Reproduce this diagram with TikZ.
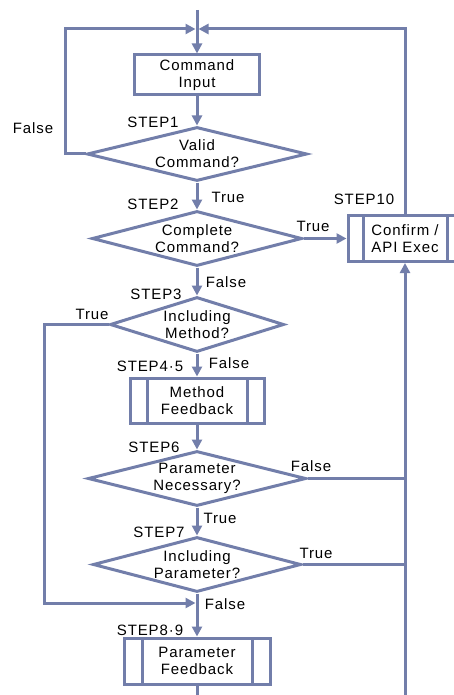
\documentclass[tikz,border=0pt]{standalone}
\usepackage{fontspec}
\setmainfont{Liberation Sans}[LetterSpace=6]
\usetikzlibrary{arrows.meta}
\usetikzlibrary{shapes.geometric}

\definecolor{flowblue}{RGB}{114,126,170}
\newcommand{\flowfont}{\fontsize{15}{17}\selectfont}

\tikzset{
	flow/.style={draw=flowblue, line width=3pt},
	flowarrow/.style={flow, -{Triangle[length=10pt,width=10pt]}},
	procbox/.style={flow, rectangle, inner sep=0pt, align=center, font=\flowfont},
	subproc/.style={procbox, path picture={
		\draw[flow] ([xshift=#1]path picture bounding box.north west) -- ([xshift=#1]path picture bounding box.south west)
			([xshift=-#1]path picture bounding box.north east) -- ([xshift=-#1]path picture bounding box.south east);}},
	subproc/.default=17pt,
	decision/.style={flow, diamond, aspect=4, inner sep=0pt, align=center, font=\flowfont},
	lbl/.style={font=\flowfont, inner sep=0pt}
}

\begin{document}
\begin{tikzpicture}[x=1pt, y=-1pt]

	% keep the page the size of the picture
	\useasboundingbox (0,0) rectangle (454,695);
	\clip (0,0) rectangle (454,695);

	% save coordinates for later
	\coordinate (top) at (197,10);
	\coordinate (join) at (197,29);
	\coordinate (falseloop) at (65,29);
	\coordinate (backloop) at (405,29);
	\coordinate (trueloop) at (44,603);
	\coordinate (merge) at (197,603);
	\coordinate (botmid) at (197,695);
	\coordinate (botright) at (405,695);

	% boxes and decisions of the main column
	\node[procbox, minimum width=125, minimum height=40] (input) at (197,75) {Command\\Input};
	\node[decision, minimum width=220, minimum height=54] (valid) at (197,154) {Valid\\Command?};
	\node[decision, minimum width=210, minimum height=55] (complete) at (197,238.5) {Complete\\Command?};
	\node[decision, aspect=3.2, minimum width=174, minimum height=55] (method) at (197,324.5) {Including\\Method?};
	\node[subproc, minimum width=134, minimum height=45] (mfeed) at (197,400.5) {Method\\Feedback};
	\node[decision, minimum width=218, minimum height=55] (necessary) at (197,478.5) {Parameter\\Necessary?};
	\node[decision, minimum width=208, minimum height=55] (param) at (197,564.5) {Including\\Parameter?};
	\node[subproc=18pt, minimum width=146, minimum height=46] (pfeed) at (197,661) {Parameter\\Feedback};
	\node[subproc=15pt, minimum width=114, minimum height=46] (confirm) at (405,238.5) {Confirm /\\API Exec};

	% main flow downwards
	\draw[flowarrow] (top) -- (input.north);
	\draw[flowarrow] (input.south) -- (valid.north);
	\draw[flowarrow] (valid.south) -- (complete.north);
	\draw[flowarrow] (complete.east) -- (confirm.west);
	\draw[flowarrow] (complete.south) -- (method.north);
	\draw[flowarrow] (method.south) -- (mfeed.north);
	\draw[flowarrow] (mfeed.south) -- (necessary.north);
	\draw[flowarrow] (necessary.south) -- (param.north);
	\draw[flowarrow] (param.south) -- (pfeed.north);
	\draw[flow] (pfeed.south) -- (botmid);

	% loops back to the top
	\draw[flowarrow, shorten >=1.5pt] (valid.west) -| (falseloop) -- (join);
	\draw[flowarrow, shorten >=1.5pt] (confirm.north) -- (backloop) -- (join);

	% right side into confirm
	\draw[flowarrow] (botright) -- (confirm.south);
	\draw[flow] (necessary.east) -- (necessary.east -| botright);
	\draw[flow] (param.east) -- (param.east -| botright);

	% left side skip to parameter feedback
	\draw[flowarrow, shorten >=1.5pt] (method.west) -| (trueloop) -- (merge);

	% step names
	\node[lbl] (s1) at (153,122) {STEP1};
	\node[lbl] (s2) at (153,204) {STEP2};
	\node[lbl] (s3) at (156,294) {STEP3};
	\node[lbl] (s45) at (150,366) {STEP4·5};
	\node[lbl] (s6) at (154,447) {STEP6};
	\node[lbl] (s7) at (159,532) {STEP7};
	\node[lbl] (s89) at (150,630) {STEP8·9};
	\node[lbl] (s10) at (364,199) {STEP10};

	% branch labels
	\node[lbl] (f1) at (33,128) {False};
	\node[lbl] (t2) at (228,197) {True};
	\node[lbl] (t2b) at (313,226) {True};
	\node[lbl] (f2) at (226,282) {False};
	\node[lbl] (t3) at (92,314) {True};
	\node[lbl] (f3) at (229,363) {False};
	\node[lbl] (f6) at (311,466) {False};
	\node[lbl] (t6) at (220,518) {True};
	\node[lbl] (t7) at (316,553) {True};
	\node[lbl] (f7) at (225,604) {False};

\end{tikzpicture}
\end{document}
